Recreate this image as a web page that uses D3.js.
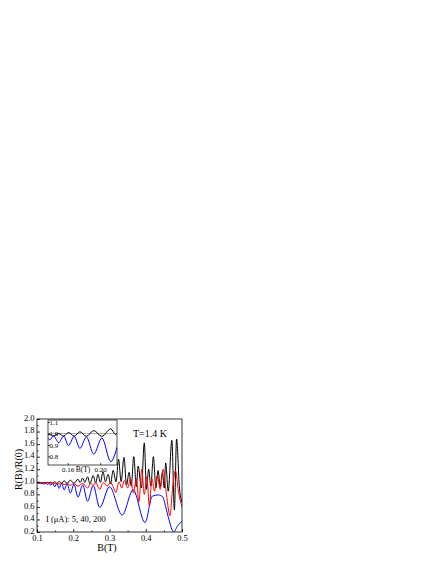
<!DOCTYPE html>
<html><head><meta charset="utf-8">
<script src="https://cdn.jsdelivr.net/npm/d3@7"></script>
<style>
html,body{margin:0;padding:0;background:#fff;}
svg{display:block;}
text{font-family:"Liberation Serif","Times New Roman",serif;fill:#000;}
</style></head>
<body>
<script>
// ---- data ----
const blackB = [0.100,0.120,0.129,0.1335,0.138,0.1425,0.149,0.155,0.161,0.168,0.175,0.183,0.192,0.202,0.213,0.219,0.226,0.232,0.2395,0.246,0.255,0.262,0.268,0.275,0.282,0.289,0.296,0.303,0.310,0.318,0.325,0.332,0.340,0.347,0.354,0.360,0.367,0.374,0.379,0.388,0.396,0.402,0.408,0.414,0.421,0.428,0.434,0.440,0.446,0.451,0.455,0.462,0.472,0.479,0.485,0.493,0.500];
const blackR = [0.985,0.985,0.990,0.982,0.992,0.978,1.000,0.976,1.008,0.976,1.015,0.975,1.025,0.975,1.040,0.990,1.060,0.990,1.080,0.970,1.100,0.980,1.120,0.990,1.160,1.000,1.120,0.970,1.180,1.000,1.360,1.000,1.390,0.950,1.150,0.930,1.400,0.920,1.250,0.900,1.620,0.880,1.200,0.930,1.400,0.900,1.180,0.920,1.150,0.900,1.300,0.850,1.660,0.550,1.680,0.900,0.680];
const redB = [0.100,0.150,0.161,0.168,0.175,0.183,0.192,0.202,0.213,0.226,0.2395,0.248,0.255,0.262,0.273,0.283,0.294,0.303,0.310,0.318,0.326,0.334,0.341,0.350,0.358,0.366,0.374,0.381,0.389,0.396,0.403,0.410,0.417,0.424,0.432,0.440,0.448,0.457,0.467,0.474,0.482,0.490,0.500];
const redR = [0.985,0.975,0.965,0.975,0.955,0.972,0.945,0.970,0.930,0.975,0.900,0.980,0.940,0.985,0.880,0.990,0.930,0.990,0.920,0.830,1.000,0.900,1.020,0.900,1.050,0.820,1.050,0.680,1.200,0.800,1.080,0.620,1.050,0.850,1.100,0.880,1.200,0.800,0.460,0.900,1.180,0.850,0.600];
const blueB = [0.100,0.110,0.121,0.125,0.129,0.1335,0.138,0.1425,0.149,0.155,0.161,0.168,0.175,0.183,0.192,0.202,0.213,0.226,0.2395,0.255,0.273,0.300,0.335,0.365,0.398,0.418,0.435,0.447,0.455,0.463,0.477,0.488,0.500];
const blueR = [0.980,0.978,0.965,0.975,0.955,0.975,0.945,0.978,0.920,0.978,0.895,0.975,0.870,0.970,0.820,0.960,0.755,0.950,0.690,0.940,0.590,0.920,0.470,0.870,0.350,0.770,0.790,0.760,0.600,0.420,0.200,0.300,0.370];

const xTicks = [0.1,0.2,0.3,0.4,0.5];
const yTicks = [0.2,0.4,0.6,0.8,1.0,1.2,1.4,1.6,1.8,2.0];
const insetXTicks = [0.16,0.20];
const insetYTicks = [0.8,0.9,1.0,1.1];
const legendText = "I (\u03bcA): 5, 40, 200";
const tempText = "T=1.4 K";

// ---- layout ----
const W = 436, H = 564;
const M = {l:37, r:182, t:419, b:532};
const I = {l:48, r:117, t:420, b:465};

const svg = d3.select("body").append("svg").attr("width",W).attr("height",H);

const x = d3.scaleLinear().domain([0.1,0.5]).range([M.l,M.r]);
const y = d3.scaleLinear().domain([0.2,2.0]).range([M.b,M.t]);

const defs = svg.append("defs");
defs.append("clipPath").attr("id","mclip").append("rect")
  .attr("x",M.l).attr("y",M.t).attr("width",M.r-M.l).attr("height",M.b-M.t);

const series = [
  {B:blackB,R:blackR,c:"#000000",w:1},
  {B:blueB,R:blueR,c:"#0000ff",w:1},
  {B:redB,R:redR,c:"#ff0000",w:1},
];

const gMain = svg.append("g").attr("clip-path","url(#mclip)");
series.forEach(s=>{
  const pts = s.B.map((b,i)=>[b,s.R[i]]);
  gMain.append("path").datum(pts)
    .attr("fill","none").attr("stroke",s.c).attr("stroke-width",s.w)
    .attr("d",d3.line().x(d=>x(d[0])).y(d=>y(d[1])).curve(d3.curveMonotoneX));
});

// axes
const fs = 8.5;
const gx = svg.append("g").attr("transform",`translate(0,${M.b})`)
  .call(d3.axisBottom(x).tickValues(xTicks).tickFormat(d3.format(".1f")).tickSize(-3).tickPadding(3));
const gxm = svg.append("g").attr("transform",`translate(0,${M.b})`)
  .call(d3.axisBottom(x).tickValues(d3.range(0.15,0.5,0.1)).tickFormat("").tickSize(-1.5));
const gy = svg.append("g").attr("transform",`translate(${M.l},0)`)
  .call(d3.axisLeft(y).tickValues(yTicks).tickFormat(d3.format(".1f")).tickSize(-3).tickPadding(2.5));
const gym = svg.append("g").attr("transform",`translate(${M.l},0)`)
  .call(d3.axisLeft(y).tickValues(d3.range(0.3,2.0,0.2)).tickFormat("").tickSize(-1.5));
[gx,gxm,gy,gym].forEach(g=>{
  g.select(".domain").remove();
  g.selectAll("line").attr("stroke","#000").attr("stroke-width",0.8);
  g.selectAll("text").attr("font-size",fs).attr("font-family","Liberation Serif").attr("fill","#000");
});
gy.selectAll("text").attr("dy","0.15em");
svg.append("rect").attr("x",M.l).attr("y",M.t).attr("width",M.r-M.l).attr("height",M.b-M.t)
  .attr("fill","none").attr("stroke","#000").attr("stroke-width",0.8);

svg.append("text").attr("x",107).attr("y",551).attr("text-anchor","middle")
  .attr("font-size",10).text("B(T)");
svg.append("text").attr("transform",`translate(22,${(M.t+M.b)/2-6}) rotate(-90)`)
  .attr("text-anchor","middle").attr("font-size",10).text("R(B)/R(0)");
svg.append("text").attr("x",133).attr("y",437).attr("font-size",10).text(tempText);
svg.append("text").attr("x",46).attr("y",522).attr("font-size",8.5).text(legendText);

// ---- inset ----
const xi = d3.scaleLinear().domain([0.1358,0.2206]).range([I.l,I.r]);
const yi = d3.scaleLinear().domain([0.726,1.117]).range([I.b,I.t]);
defs.append("clipPath").attr("id","iclip").append("rect")
  .attr("x",I.l).attr("y",I.t).attr("width",I.r-I.l).attr("height",I.b-I.t);
svg.append("rect").attr("x",I.l).attr("y",I.t).attr("width",I.r-I.l).attr("height",I.b-I.t)
  .attr("fill","#fff");
const gIn = svg.append("g").attr("clip-path","url(#iclip)");
gIn.append("line").attr("x1",I.l).attr("x2",I.r).attr("y1",yi(1.0)).attr("y2",yi(1.0))
  .attr("stroke","#999").attr("stroke-width",0.8);
[series[0],series[1]].forEach(s=>{
  const pts = s.B.map((b,i)=>[b,s.R[i]]);
  gIn.append("path").datum(pts)
    .attr("fill","none").attr("stroke",s.c).attr("stroke-width",s.w)
    .attr("d",d3.line().x(d=>xi(d[0])).y(d=>yi(d[1])).curve(d3.curveMonotoneX));
});
const gix = svg.append("g").attr("transform",`translate(0,${I.b})`)
  .call(d3.axisBottom(xi).tickValues(insetXTicks).tickFormat(d3.format(".2f")).tickSize(-2).tickPadding(2));
const giy = svg.append("g").attr("transform",`translate(${I.l},0)`)
  .call(d3.axisLeft(yi).tickValues(insetYTicks).tickFormat(d3.format(".1f")).tickSize(-2).tickPadding(-2));
[gix,giy].forEach(g=>{
  g.select(".domain").remove();
  g.selectAll("line").attr("stroke","#000").attr("stroke-width",0.7);
  g.selectAll("text").attr("font-size",7).attr("font-family","Liberation Serif").attr("fill","#000");
});
giy.selectAll("text").attr("text-anchor","start").attr("x",1.5);
svg.append("rect").attr("x",I.l).attr("y",I.t).attr("width",I.r-I.l).attr("height",I.b-I.t)
  .attr("fill","none").attr("stroke","#000").attr("stroke-width",0.7);
svg.append("text").attr("x",83).attr("y",472).attr("text-anchor","middle")
  .attr("font-size",7.5).text("B(T)");
</script>
</body></html>
